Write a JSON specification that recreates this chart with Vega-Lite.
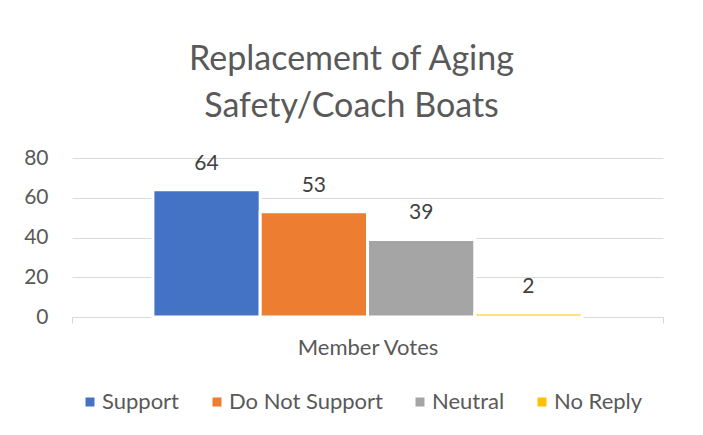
{
  "$schema": "https://vega.github.io/schema/vega-lite/v6.json",
  "width": 591,
  "height": 159,
  "autosize": {"type": "none"},
  "padding": {"left": 72, "top": 158, "right": 40, "bottom": 118},
  "background": "#ffffff",
  "title": {
    "text": ["Replacement of Aging", "Safety/Coach Boats"],
    "fontSize": 34,
    "lineHeight": 47,
    "font": "Lato",
    "fontWeight": "normal",
    "color": "#595959",
    "anchor": "middle",
    "frame": "group",
    "dx": -16,
    "offset": 23
  },
  "data": {
    "values": [
      {"group": "Member Votes", "response": "Support", "votes": 64},
      {"group": "Member Votes", "response": "Do Not Support", "votes": 53},
      {"group": "Member Votes", "response": "Neutral", "votes": 39},
      {"group": "Member Votes", "response": "No Reply", "votes": 2}
    ]
  },
  "encoding": {
    "x": {
      "field": "group",
      "type": "nominal",
      "title": null,
      "scale": {"paddingInner": 0, "paddingOuter": 0},
      "axis": {
        "labelAngle": 0,
        "labelFont": "Lato",
        "labelFontSize": 22,
        "labelColor": "#595959",
        "labelPadding": 14,
        "domainColor": "#d9d9d9",
        "domainWidth": 1,
        "tickColor": "#d9d9d9",
        "tickSize": 6,
        "tickBand": "extent",
        "grid": false
      }
    },
    "xOffset": {
      "field": "response",
      "type": "nominal",
      "sort": ["Support", "Do Not Support", "Neutral", "No Reply"],
      "scale": {"paddingInner": 0, "paddingOuter": 0.754}
    },
    "y": {
      "field": "votes",
      "type": "quantitative",
      "title": null,
      "scale": {"domain": [0, 80], "nice": false},
      "axis": {
        "values": [0, 20, 40, 60, 80],
        "domain": false,
        "ticks": false,
        "labelFont": "Lato",
        "labelFontSize": 21,
        "labelColor": "#595959",
        "labelPadding": 24,
        "gridColor": "#d9d9d9",
        "gridWidth": 1
      }
    }
  },
  "layer": [
    {
      "mark": {"type": "bar", "stroke": "#ffffff", "strokeWidth": 3},
      "encoding": {
        "color": {
          "field": "response",
          "type": "nominal",
          "sort": ["Support", "Do Not Support", "Neutral", "No Reply"],
          "scale": {
            "domain": ["Support", "Do Not Support", "Neutral", "No Reply"],
            "range": ["#4472C4", "#ED7D31", "#A5A5A5", "#FFC000"]
          },
          "legend": {
            "title": null,
            "orient": "none",
            "direction": "horizontal",
            "legendX": 7,
            "legendY": 233,
            "symbolType": "square",
            "symbolSize": 81,
            "symbolStrokeWidth": 0,
            "labelFont": "Lato",
            "labelFontSize": 22,
            "labelColor": "#595959",
            "labelOffset": 1,
            "columnPadding": 26,
            "labelLimit": 300
          }
        }
      }
    },
    {
      "mark": {"type": "text", "dy": -26, "baseline": "middle", "align": "center", "font": "Lato", "fontSize": 21, "color": "#404040"},
      "encoding": {
        "text": {"field": "votes", "type": "quantitative"}
      }
    }
  ],
  "config": {
    "view": {"stroke": null}
  }
}
